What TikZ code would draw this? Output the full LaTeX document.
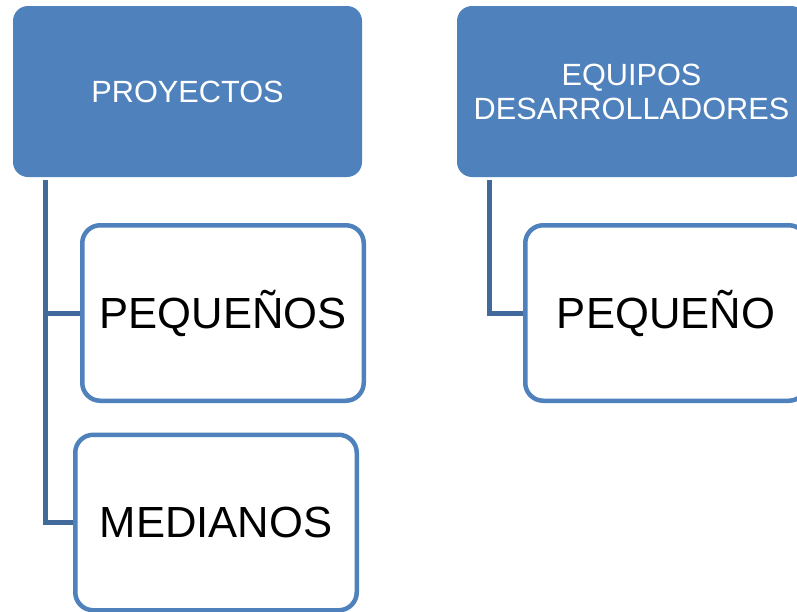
\documentclass[tikz,border=0pt]{standalone}
\usepackage{fontspec}
\setmainfont{Liberation Sans}
\usetikzlibrary{backgrounds}
\definecolor{boxblue}{HTML}{4F81BD}
\definecolor{connblue}{HTML}{41699B}
\tikzset{
  headbox/.style={rectangle, rounded corners=15pt, fill=boxblue, text=white,
    minimum width=349pt, minimum height=171pt, inner sep=0pt, outer sep=0pt,
    align=center, font=\fontsize{30.7}{34}\selectfont},
  itembox/.style={rectangle, rounded corners=18pt, draw=boxblue, line width=4.5pt, fill=white,
    text=black, minimum width=281.5pt, minimum height=175.5pt, inner sep=0pt, outer sep=0pt,
    align=center, font=\fontsize{43.6}{48}\selectfont},
  conn/.style={draw=connblue, line width=5pt, line join=miter}
}
\begin{document}
\begin{tikzpicture}[x=1pt,y=-1pt]
\useasboundingbox (0,0) rectangle (797,611);
\clip (0,0) rectangle (797,611);
\node[headbox] (proj) at (187.5,91.5) {PROYECTOS};
\node[headbox] (equ) at (631.5,91.5) {EQUIPOS\\DESARROLLADORES};
\node[itembox] (peqs) at (223,313) {PEQUEÑOS};
\node[itembox] (med) at (216,522.5) {MEDIANOS};
\node[itembox] (peq) at (666,313) {PEQUEÑO};
\coordinate (a) at (45.5,180);
\coordinate (b) at (489,180);
\begin{scope}[on background layer]
\fill[white] (0,0) rectangle (797,611);
\draw[conn] (a) |- (peqs.west);
\draw[conn] (a) |- (med.west);
\draw[conn] (b) |- (peq.west);
\end{scope}
\end{tikzpicture}
\end{document}
